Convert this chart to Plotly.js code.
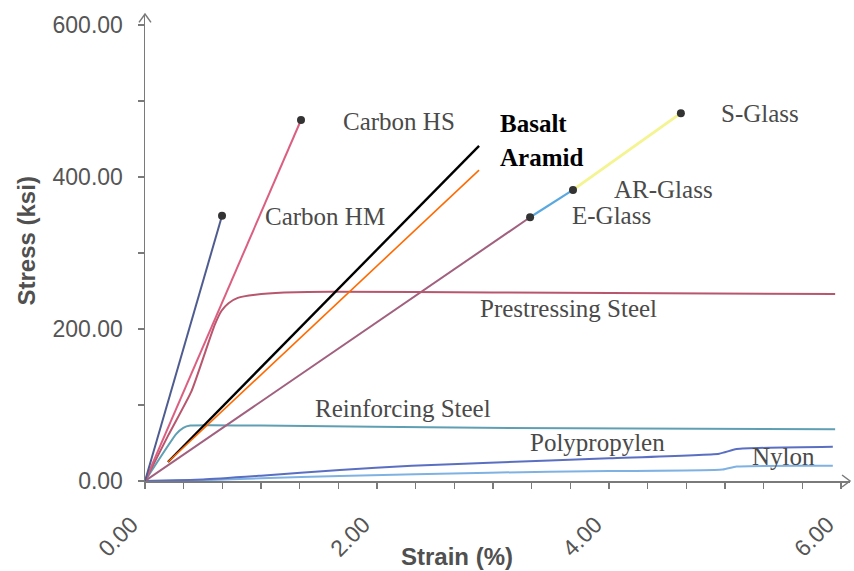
<!DOCTYPE html>
<html>
<head>
<meta charset="utf-8">
<script src="https://cdn.plot.ly/plotly-3.0.1.min.js"></script>
<style>html,body{margin:0;padding:0;background:#fff;}#chart{width:854px;height:571px;}</style>
</head>
<body>
<div id="chart"></div>
<script>
// ---- data (strain %, stress ksi) ----
const carbonHM_x = [0, 0.664];
const carbonHM_y = [0, 349];
const carbonHS_x = [0, 1.345];
const carbonHS_y = [0, 475];
const prestress_x = [0, 0.2, 0.4, 0.52, 0.6, 0.66, 0.72, 0.8, 0.95, 1.2, 1.6, 3.0, 5.95];
const prestress_y = [0, 60, 118, 170, 205, 224, 234, 241, 245, 248, 249, 248, 246];
const basalt_x = [0.198, 2.88];
const basalt_y = [25, 441];
const aramid_x = [0.198, 2.88];
const aramid_y = [25, 409];
const eGlass_x = [0, 3.32];
const eGlass_y = [0, 347];
const arGlass_x = [3.32, 3.69];
const arGlass_y = [347, 383];
const sGlass_x = [3.69, 4.62];
const sGlass_y = [383, 484];
const reinf_x = [0, 0.27, 0.33, 0.39, 1.0, 2.9, 5.95];
const reinf_y = [0, 62, 70, 73, 73, 70, 68];
const polyp_x = [0, 0.5, 1.0, 1.68, 2.3, 2.97, 4.0, 4.95, 5.1, 5.93];
const polyp_y = [0, 2, 7, 14.5, 20, 24, 30, 36, 42, 45];
const nylon_x = [0, 0.5, 1.0, 1.68, 2.97, 4.0, 4.98, 5.1, 5.93];
const nylon_y = [0, 1, 3.5, 6.6, 11, 13, 15, 19, 20];

const NB = '\u00a0\u00a0\u00a0';
const xTickVals = [0,1/3,2/3,1,4/3,5/3,2,7/3,8/3,3,10/3,11/3,4,13/3,14/3,5,16/3,17/3,6];
const xTickText = ["0.00"+NB,"","","","","","2.00"+NB,"","","","","","4.00"+NB,"","","","","","6.00"+NB];
const yTickVals = [0,100,200,300,400,500,600];
const yTickText = ["0.00","","200.00","","400.00","","600.00"];

// label names and anchor positions (data units)
const labelText = ["Carbon HS","Carbon HM","S-Glass","AR-Glass","E-Glass","Prestressing Steel","Reinforcing Steel","Polypropylen","Nylon"];
const labelX = [1.69, 1.017, 4.95, 4.03, 3.664, 2.871, 1.448, 3.302, 5.216];
const labelY = [473.7, 348.7, 484, 383, 349, 227.6, 96, 51.3, 32.9];
const boldText = ["Basalt","Aramid"];
const boldX = [3.045, 3.045];
const boldY = [470, 426];

const last = a => a[a.length-1];
const dotX = [last(carbonHM_x), last(carbonHS_x), last(eGlass_x), last(arGlass_x), last(sGlass_x)];
const dotY = [last(carbonHM_y), last(carbonHS_y), last(eGlass_y), last(arGlass_y), last(sGlass_y)];

function line(x, y, color, width, name, smooth) {
  const ln = {color: color, width: width};
  if (smooth) { ln.shape = 'spline'; ln.smoothing = 0.5; }
  return {x: x, y: y, mode: 'lines', name: name, line: ln, hoverinfo: 'skip'};
}

const traces = [
  line(nylon_x, nylon_y, '#7fb2e2', 2, 'Nylon', true),
  line(polyp_x, polyp_y, '#5a6fc2', 2, 'Polypropylen', true),
  line(reinf_x, reinf_y, '#5f9fb3', 2, 'Reinforcing Steel', true),
  line(eGlass_x, eGlass_y, '#a0607e', 2, 'E-Glass'),
  line(arGlass_x, arGlass_y, '#5aa8e0', 2.2, 'AR-Glass'),
  line(sGlass_x, sGlass_y, '#f4f490', 2.8, 'S-Glass'),
  line(prestress_x, prestress_y, '#b8566e', 2, 'Prestressing Steel', true),
  line(carbonHS_x, carbonHS_y, '#da5f80', 2, 'Carbon HS'),
  line(carbonHM_x, carbonHM_y, '#4f5c90', 2, 'Carbon HM'),
  line(basalt_x, basalt_y, '#000000', 2.4, 'Basalt'),
  line(aramid_x, aramid_y, '#ff6a00', 1.6, 'Aramid'),
  {x: dotX, y: dotY, mode: 'markers', marker: {color: '#333333', size: 8}, hoverinfo: 'skip'}
];

const annotations = [];
labelText.forEach((t, i) => annotations.push({
  x: labelX[i], y: labelY[i], xref: 'x', yref: 'y', text: t, showarrow: false,
  xanchor: 'left', yanchor: 'middle',
  font: {family: 'Liberation Serif, Times New Roman, serif', size: 25, color: '#4a4a4a'}
}));
boldText.forEach((t, i) => annotations.push({
  x: boldX[i], y: boldY[i], xref: 'x', yref: 'y', text: '<b>' + t + '</b>', showarrow: false,
  xanchor: 'left', yanchor: 'middle',
  font: {family: 'Liberation Serif, Times New Roman, serif', size: 25, color: '#000000'}
}));
annotations.push({
  x: -0.168, y: 0.514, xref: 'paper', yref: 'paper', text: '<b>Stress (ksi)</b>', textangle: -90,
  showarrow: false, xanchor: 'center', yanchor: 'middle',
  font: {family: 'Liberation Sans, Arial, sans-serif', size: 24, color: '#505050'}
});
annotations.push({
  x: 0.443, y: -0.161, xref: 'paper', yref: 'paper', text: '<b>Strain (%)</b>',
  showarrow: false, xanchor: 'center', yanchor: 'middle',
  font: {family: 'Liberation Sans, Arial, sans-serif', size: 24, color: '#505050'}
});

const layout = {
  width: 854, height: 571,
  margin: {l: 145, r: 4, t: 14, b: 90},
  paper_bgcolor: '#ffffff', plot_bgcolor: '#ffffff',
  showlegend: false,
  xaxis: {
    range: [0, 6.078], showgrid: false, zeroline: false,
    showline: true, linecolor: '#7a7a7a', linewidth: 1.5,
    ticks: 'outside', ticklen: 6, tickcolor: '#7a7a7a', tickwidth: 1.2,
    tickmode: 'array', tickvals: xTickVals, ticktext: xTickText, tickangle: -45,
    tickfont: {family: 'Liberation Sans, Arial, sans-serif', size: 23, color: '#555555'}
  },
  yaxis: {
    range: [0, 614.5], showgrid: false, zeroline: false,
    showline: true, linecolor: '#7a7a7a', linewidth: 1.5,
    ticks: 'outside', ticklen: 6, tickcolor: '#7a7a7a', tickwidth: 1.2,
    tickmode: 'array', tickvals: yTickVals, ticktext: yTickText,
    ticklabelstandoff: 10,
    tickfont: {family: 'Liberation Sans, Arial, sans-serif', size: 23, color: '#555555'}
  },
  annotations: annotations,
  shapes: [
    {type: 'path', xref: 'paper', yref: 'paper', path: 'M -0.0085,0.982 L 0,1.0 L 0.0085,0.982',
     line: {color: '#7a7a7a', width: 1.5}},
    {type: 'path', xref: 'paper', yref: 'paper', path: 'M 0.9887,0.0128 L 1.0,0 L 0.9887,-0.0128',
     line: {color: '#7a7a7a', width: 1.5}}
  ]
};

Plotly.newPlot('chart', traces, layout, {staticPlot: true, displayModeBar: false});
</script>
</body>
</html>
